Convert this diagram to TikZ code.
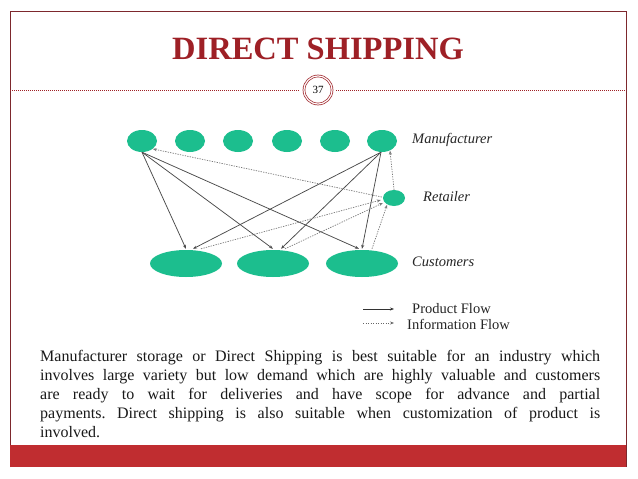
\documentclass[tikz,border=0pt]{standalone}
\usepackage{fontspec}
\setmainfont{Liberation Serif}
\usetikzlibrary{arrows.meta,shapes.geometric,calc}
\definecolor{titlered}{RGB}{158,32,38}
\definecolor{barred}{RGB}{192,45,48}
\definecolor{framered}{RGB}{125,40,45}
\definecolor{nodegreen}{RGB}{28,190,142}
\definecolor{linegray}{RGB}{75,75,75}
\frenchspacing
\begin{document}
\begin{tikzpicture}[x=1pt,y=-1pt,
  mnode/.style={ellipse,fill=nodegreen,minimum width=30pt,minimum height=22pt,inner sep=0pt},
  rnode/.style={ellipse,fill=nodegreen,minimum width=22pt,minimum height=16pt,inner sep=0pt},
  cnode/.style={ellipse,fill=nodegreen,minimum width=72pt,minimum height=27pt,inner sep=0pt},
  prod/.style={draw=linegray,line width=0.75pt,-{Stealth[length=4pt,width=3pt]}},
  info/.style={draw=linegray!75,line width=0.7pt,dash pattern=on 1.3pt off 1.2pt,-{Stealth[length=4pt,width=3pt]}},
  lab/.style={anchor=west,inner sep=0pt,font=\fontsize{14.5}{16}\selectfont\itshape,text=black!85},
  leg/.style={anchor=west,inner sep=0pt,font=\fontsize{14.5}{16}\selectfont,text=black!85}
]
\useasboundingbox (0,0) rectangle (638,479);
\fill[white] (0,0) rectangle (638,479);
% frame and bar
\draw[framered,line width=0.8pt] (10,467) -- (10,11) -- (626,11) -- (626,467);
\fill[barred] (10,445) rectangle (626,467);
% title
\node[text=titlered,font=\fontsize{32.5}{36}\selectfont\bfseries,inner sep=0pt] (title) at (318,49) {DIRECT SHIPPING};
% badge
\node[circle,draw=titlered,double,double distance=1.2pt,line width=0.7pt,minimum size=28pt,inner sep=0pt,font=\fontsize{11}{12}\selectfont] (badge) at (318,90) {37};
\coordinate (dl1) at (10,90);
\coordinate (dl2) at (626,90);
\draw[titlered,line width=0.6pt,dash pattern=on 1pt off 1pt] (dl1) -- ($(badge.west)+(-4,0)$);
\draw[titlered,line width=0.6pt,dash pattern=on 1pt off 1pt] ($(badge.east)+(4,0)$) -- (dl2);
% nodes
\node[mnode] (m1) at (142,141) {};
\node[mnode] (m2) at (190,141) {};
\node[mnode] (m3) at (238,141) {};
\node[mnode] (m4) at (287,141) {};
\node[mnode] (m5) at (335,141) {};
\node[mnode] (m6) at (382,141) {};
\node[rnode] (r) at (394,198) {};
\node[cnode] (c1) at (186,263.5) {};
\node[cnode] (c2) at (273,263.5) {};
\node[cnode] (c3) at (362,263.5) {};
% labels
\node[lab] (lm) at (412,140) {Manufacturer};
\node[lab] (lr) at (423,197) {Retailer};
\node[lab] (lc) at (412,262) {Customers};
% product flow
\draw[prod] (m1.south) -- ($(c1.north)+(0,-1)$);
\draw[prod] (m1.south) -- ($(c2.north)+(0,-1)$);
\draw[prod] (m1.south) -- ($(c3.north)+(-3,-1)$);
\draw[prod] ($(m6.south)+(-1,0)$) -- ($(c1.north)+(7,-1)$);
\draw[prod] ($(m6.south)+(-1,0)$) -- ($(c2.north)+(8,-1)$);
\draw[prod] ($(m6.south)+(-1,0)$) -- ($(c3.north)+(0,-1)$);
% information flow
\draw[info] ($(r.west)+(-1,-1)$) -- (m1.south east);
\draw[info] (r.north) -- ($(m6.south)+(8,-1.5)$);
\draw[info] ($(c1.north)+(15,-1)$) -- ($(r.west)+(-2,2)$);
\draw[info] ($(c2.north)+(12,-1)$) -- ($(r.west)+(0,5)$);
\draw[info] ($(c3.north)+(10,-1)$) -- ($(r.south west)+(1,1)$);
% legend
\coordinate (p1) at (363,309);
\coordinate (p2) at (394,309);
\coordinate (i1) at (363,323);
\coordinate (i2) at (394,323);
\draw[prod,draw=black!80] (p1) -- (p2);
\draw[info,draw=black!60] (i1) -- (i2);
\node[leg] (lp) at (412,309) {Product Flow};
\node[leg] (li) at (407,324) {Information Flow};
% body text
\node[anchor=north west,inner sep=0pt,text width=560pt,align=justify,
      font=\fontsize{16}{19}\selectfont,text=black!90] (body) at (40,350)
{Manufacturer storage or Direct Shipping is best suitable for an industry which\linebreak
involves large variety but low demand which are highly valuable and customers\linebreak
are ready to wait for deliveries and have scope for advance and partial\linebreak
payments. Direct shipping is also suitable when customization of product is\linebreak
involved.};
\end{tikzpicture}
\end{document}
